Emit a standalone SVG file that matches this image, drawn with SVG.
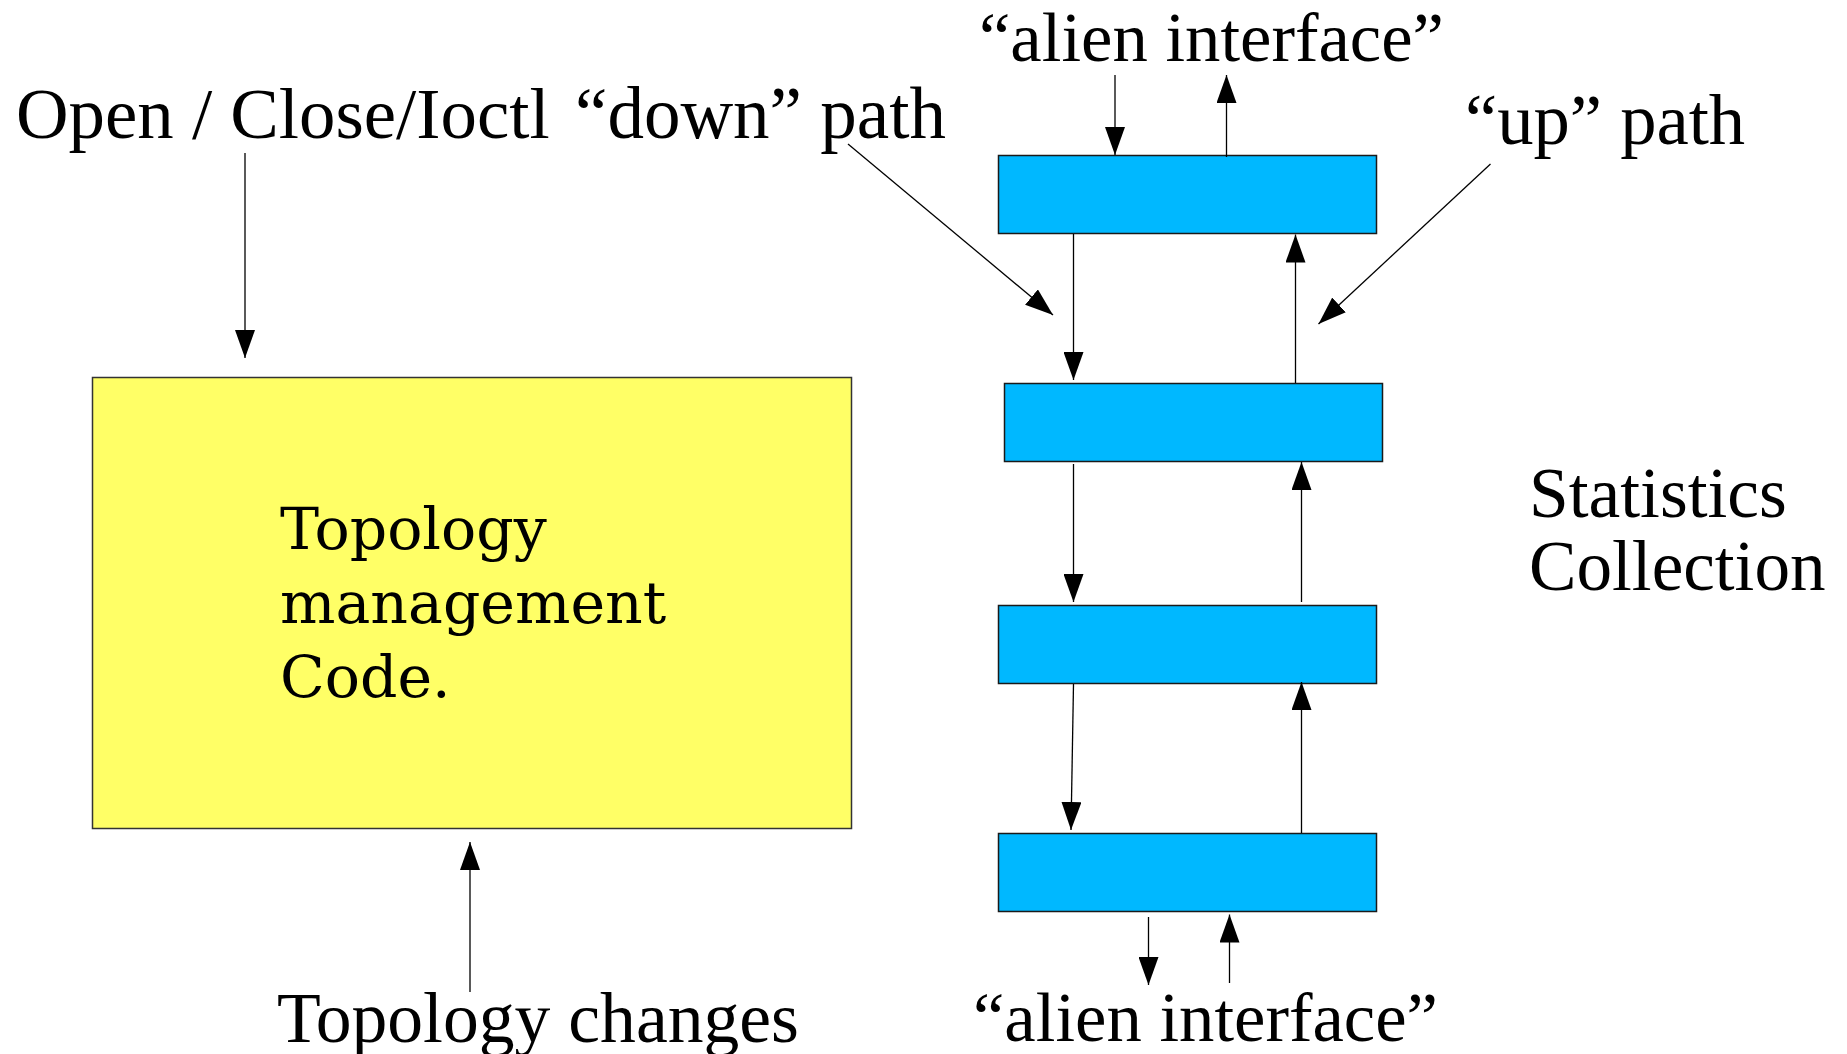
<svg xmlns="http://www.w3.org/2000/svg" width="1847" height="1054" viewBox="0 0 1847 1054">
  <style>
    .lbl { font-family: "Liberation Serif", "Times New Roman", serif; fill: #000; }
    .body { font-family: "DejaVu Serif", serif; fill: #000; font-size: 58.5px; }
    .layer { fill: #00b8ff; stroke: #1a1a1a; stroke-width: 1.5; }
    .core { fill: #ffff66; stroke: #333; stroke-width: 1.5; }
    .wire { stroke: #000; stroke-width: 1.3; fill: none; marker-end: url(#head); }
  </style>
  <defs>
    <marker id="head" markerUnits="userSpaceOnUse" markerWidth="28" markerHeight="20" refX="28" refY="10" orient="auto" viewBox="0 0 28 20">
      <path d="M0,0 L28,10 L0,20 Z" fill="#000"/>
    </marker>
  </defs>

  <rect width="1847" height="1054" fill="#fff"/>

  <!-- control side -->
  <g id="topology-code">
    <rect class="core" x="92.5" y="377.5" width="759" height="451"/>
    <text class="body" x="280" y="549">Topology</text>
    <text class="body" x="280" y="623">management</text>
    <text class="body" x="280" y="697">Code.</text>
  </g>

  <!-- protocol stack layers -->
  <g id="layer-1"><rect class="layer" x="998.5" y="155.5" width="378" height="78"/></g>
  <g id="layer-2"><rect class="layer" x="1004.5" y="383.5" width="378" height="78"/></g>
  <g id="layer-3"><rect class="layer" x="998.5" y="605.5" width="378" height="78"/></g>
  <g id="layer-4"><rect class="layer" x="998.5" y="833.5" width="378" height="78"/></g>

  <!-- labels -->
  <g id="label-open"><text class="lbl" x="16" y="138" font-size="72.8">Open / Close/Ioctl</text></g>
  <g id="label-down"><text class="lbl" x="575" y="138" font-size="73">“down” path</text></g>
  <g id="label-alien-top"><text class="lbl" x="979" y="61" font-size="70.7">“alien interface”</text></g>
  <g id="label-up"><text class="lbl" x="1465" y="144" font-size="72.6">“up” path</text></g>
  <g id="label-stats">
    <text class="lbl" x="1529" y="517" font-size="71.4">Statistics</text>
    <text class="lbl" x="1529" y="590" font-size="71.2">Collection</text>
  </g>
  <g id="label-changes"><text class="lbl" x="277" y="1042" font-size="71.6">Topology changes</text></g>
  <g id="label-alien-bottom"><text class="lbl" x="973" y="1041" font-size="70.7">“alien interface”</text></g>

  <!-- connectors -->
  <g id="connectors">
    <line class="wire" x1="245" y1="153" x2="245" y2="358"/>
    <line class="wire" x1="470" y1="992" x2="470" y2="842"/>
    <line class="wire" x1="1115" y1="75" x2="1115" y2="155"/>
    <line class="wire" x1="1226.5" y1="157" x2="1226.5" y2="75"/>
    <line class="wire" x1="1073.5" y1="234" x2="1073.5" y2="380"/>
    <line class="wire" x1="1295.5" y1="383" x2="1295.5" y2="234.5"/>
    <line class="wire" x1="1073.5" y1="464" x2="1073.5" y2="602"/>
    <line class="wire" x1="1301.5" y1="602" x2="1301.5" y2="462"/>
    <line class="wire" x1="1073.5" y1="684" x2="1071" y2="830"/>
    <line class="wire" x1="1301.5" y1="833" x2="1301.5" y2="682"/>
    <line class="wire" x1="1148.5" y1="917" x2="1148.5" y2="985"/>
    <line class="wire" x1="1229.5" y1="983" x2="1229.5" y2="914.5"/>
    <line class="wire" x1="848" y1="144" x2="1053" y2="315"/>
    <line class="wire" x1="1490.5" y1="164" x2="1318.5" y2="324"/>
  </g>
</svg>
